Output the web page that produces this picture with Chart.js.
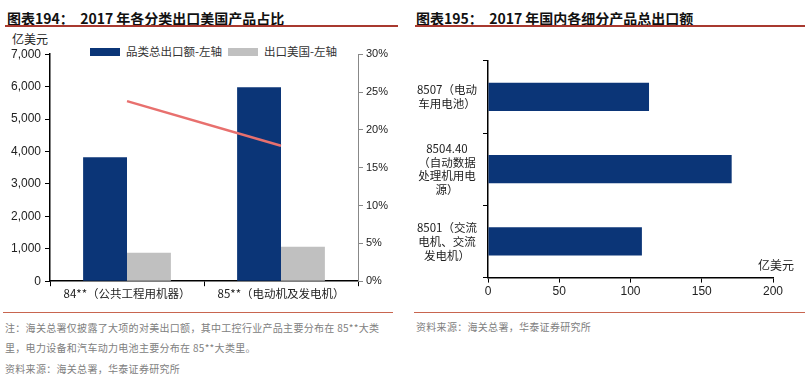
<!DOCTYPE html>
<html lang="zh">
<head>
<meta charset="UTF-8">
<script src="https://cdn.jsdelivr.net/npm/chart.js"></script>
<title>2017 出口</title>
<style>
  body { margin: 0; width: 805px; height: 379px; background: #fff; position: relative; overflow: hidden;
         font-family: "Noto Sans CJK SC", "Liberation Sans", sans-serif; }
  .t { position: absolute; white-space: nowrap; }
  .title { font-size: 14px; font-weight: bold; color: #111; top: 8px; }
  .hr { position: absolute; height: 2px; background: #a8392f; }
  .hr2 { position: absolute; height: 1px; background: #c8654f; }
  .note { font-size: 10px; letter-spacing: 0.3px; color: #808080; }
  .unit { font-size: 12px; color: #222; }
  .lg { position: absolute; top: 43px; font-size: 11.5px; color: #333; white-space: nowrap; }
  .lg span { display: inline-block; width: 30px; height: 8px; vertical-align: middle; margin-right: 6px; margin-top: -2px; }
  #c1wrap { position: absolute; left: 0; top: 43px; width: 400px; height: 259px; }
  #c2wrap { position: absolute; left: 400px; top: 34px; width: 405px; height: 267px; }
</style>
</head>
<body>

<div class="t title" style="left:7px">图表194：&nbsp;&nbsp;2017 年各分类出口美国产品占比</div>
<div class="hr" style="left:5px; width:393px; top:25px"></div>
<div class="t title" style="left:416px">图表195：&nbsp;&nbsp;2017 年国内各细分产品总出口额</div>
<div class="hr" style="left:415px; width:390px; top:25px"></div>

<div class="t unit" style="left:12px; top:30px">亿美元</div>
<div class="lg" style="left:90px"><span style="background:#0b3577"></span>品类总出口额-左轴</div>
<div class="lg" style="left:228px"><span style="background:#c0c0c0"></span>出口美国-左轴</div>

<div id="c1wrap"><canvas id="chartLeft"></canvas></div>
<div id="c2wrap"><canvas id="chartRight"></canvas></div>

<div class="t unit" style="left:758px; top:256px">亿美元</div>

<div class="hr2" style="left:3px; width:390px; top:312px"></div>
<div class="hr2" style="left:414px; width:391px; top:312px"></div>
<div class="t note" style="left:5px; top:320px">注：海关总署仅披露了大项的对美出口额，其中工控行业产品主要分布在 85**大类</div>
<div class="t note" style="left:5px; top:340px">里，电力设备和汽车动力电池主要分布在 85**大类里。</div>
<div class="t note" style="left:5px; top:361px">资料来源：海关总署，华泰证券研究所</div>
<div class="t note" style="left:416px; top:319px">资料来源：海关总署，华泰证券研究所</div>

<script>
    // left chart data (亿美元 / 占比%)
    const catLeft = ['84**（公共工程用机器）', '85**（电动机及发电机）'];
    const totalExport = [3820, 5980];
    const exportUS = [880, 1060];
    const shareUS = [23.8, 17.9];

    // right chart data (亿美元)
    const catRight = [
        ['8507（电动', '车用电池）'],
        ['8504.40', '（自动数据', '处理机用电', '源）'],
        ['8501（交流', '电机、交流', '发电机）']
    ];
    const exportTotal2 = [113, 171, 108];

    const navy = '#0b3577';
    const numFont = { family: '"Liberation Sans", Arial, sans-serif', size: 12 };
    const cjkFont = { family: '"Noto Sans CJK SC", sans-serif', size: 11.5 };

    new Chart(document.getElementById('chartLeft'), {
        type: 'bar',
        data: {
            labels: catLeft,
            datasets: [
                { label: '占比', type: 'line', data: shareUS, yAxisID: 'y2', borderColor: '#e8706e',
                  borderWidth: 2.5, pointRadius: 0, order: 0 },
                { label: '品类总出口额-左轴', data: totalExport, backgroundColor: navy, yAxisID: 'y',
                  barPercentage: 1, categoryPercentage: 0.57, order: 1 },
                { label: '出口美国-左轴', data: exportUS, backgroundColor: '#c0c0c0', yAxisID: 'y',
                  barPercentage: 1, categoryPercentage: 0.57, order: 1 }
            ]
        },
        options: {
            responsive: true,
            maintainAspectRatio: false,
            animation: false,
            layout: { padding: { top: 4, bottom: 0 } },
            plugins: { legend: { display: false }, tooltip: { enabled: false } },
            scales: {
                x: {
                    grid: { drawOnChartArea: false, color: '#000', tickLength: 5, offset: true },
                    border: { color: '#000', width: 1.5 },
                    ticks: { color: '#222', font: cjkFont, padding: 1 }
                },
                y: {
                    position: 'left', min: 0, max: 7000,
                    afterFit: s => { s.width = 50; },
                    grid: { drawOnChartArea: false, color: '#000', tickLength: 5 },
                    border: { color: '#000', width: 1.5 },
                    ticks: { stepSize: 1000, color: '#222', font: numFont, padding: 4,
                             callback: v => v.toLocaleString('en-US') }
                },
                y2: {
                    position: 'right', min: 0, max: 30,
                    afterFit: s => { s.width = 42; },
                    grid: { drawOnChartArea: false, color: '#888', tickLength: 5 },
                    border: { color: '#888', width: 1 },
                    ticks: { stepSize: 5, color: '#222', font: { family: numFont.family, size: 11 }, padding: 3,
                             callback: v => v + '%' }
                }
            }
        }
    });

    new Chart(document.getElementById('chartRight'), {
        type: 'bar',
        data: {
            labels: catRight,
            datasets: [
                { label: '总出口额', data: exportTotal2, backgroundColor: navy,
                  barPercentage: 1, categoryPercentage: 0.39 }
            ]
        },
        options: {
            indexAxis: 'y',
            responsive: true,
            maintainAspectRatio: false,
            animation: false,
            layout: { padding: { top: 10, right: 32 } },
            plugins: { legend: { display: false }, tooltip: { enabled: false } },
            scales: {
                x: {
                    min: 0, max: 200,
                    grid: { drawOnChartArea: false, color: '#000', tickLength: 5 },
                    border: { color: '#000', width: 1.5 },
                    ticks: { stepSize: 50, color: '#222', font: numFont, padding: 2 }
                },
                y: {
                    afterFit: s => { s.width = 88; },
                    grid: { drawOnChartArea: false, color: '#000', tickLength: 5, offset: true },
                    border: { color: '#000', width: 1.5 },
                    ticks: { color: '#222', font: cjkFont, padding: 6, crossAlign: 'center' }
                }
            }
        }
    });
</script>
</body>
</html>
